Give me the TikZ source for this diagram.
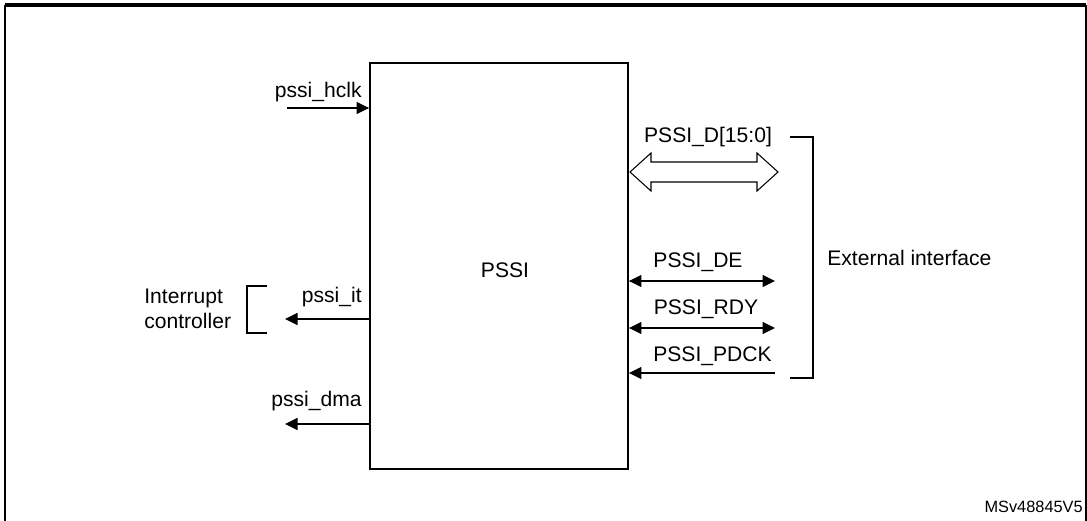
\documentclass[tikz,border=0pt]{standalone}
\usepackage{fontspec}
\setmainfont{Liberation Sans}
\usetikzlibrary{arrows.meta}

\tikzset{
  sig/.style={line width=0.6pt, -{Triangle[length=2.5mm,width=2.4mm]}},
  bisig/.style={line width=0.6pt, {Triangle[length=2.5mm,width=2.4mm]}-{Triangle[length=2.5mm,width=2.4mm]}},
  lbl/.style={font=\fontsize{12}{14}\selectfont, inner sep=0pt},
  brk/.style={line width=1.1pt}
}

\begin{document}
\begin{tikzpicture}[x=0.02cm,y=-0.02cm]
  \useasboundingbox (0,0) rectangle (1087,520);
  % frame
  \draw[line width=0.8pt] (5,525) -- (5,6) -- (1086,6) -- (1086,525);
  \draw[line width=0.6pt] (5,4) -- (1086,4);

  % block
  \node[draw, line width=1.1pt, minimum width=5.16cm, minimum height=8.12cm,
        lbl] (pssi) at (499,266) {};
  \node[lbl] (name) at (505,270) {PSSI};

  % left side
  \coordinate (hclk) at (287,108);
  \coordinate (it) at (285,319);
  \coordinate (dma) at (285,424);
  \draw[sig] (hclk) -- (hclk -| pssi.west);
  \draw[sig] (it -| pssi.west) -- (it);
  \draw[sig] (dma -| pssi.west) -- (dma);
  \node[lbl, anchor=east] (hclklbl) at (362,92) {pssi\_hclk};
  \node[lbl, anchor=east] (itlbl) at (362,297) {pssi\_it};
  \node[lbl, anchor=east] (dmalbl) at (362,401) {pssi\_dma};

  \draw[brk] (267,286) -- (247,286) -- (247,333) -- (267,333);
  \node[lbl, anchor=west, align=left] (irq) at (144,309) {Interrupt\\controller};

  % right side
  \draw[line width=0.6pt] (630,172) -- (651,153) -- (651,162) -- (757,162)
    -- (757,153) -- (778,172) -- (757,191) -- (757,182) -- (651,182)
    -- (651,191) -- cycle;
  \node[lbl] (dlbl) at (708,137) {PSSI\_D[15:0]};

  \coordinate (de) at (775,281);
  \coordinate (rdy) at (775,328);
  \coordinate (pdck) at (775,373);
  \draw[bisig] (de -| pssi.east) -- (de);
  \draw[bisig] (rdy -| pssi.east) -- (rdy);
  \draw[sig] (pdck) -- (pdck -| pssi.east);
  \node[lbl] (delbl) at (698,262) {PSSI\_DE};
  \node[lbl] (rdylbl) at (706,309) {PSSI\_RDY};
  \node[lbl, anchor=west] (pdcklbl) at (653,356) {PSSI\_PDCK};

  \draw[brk] (790,137) -- (813,137) -- (813,378) -- (790,378);
  \node[lbl, anchor=west] (ext) at (827,258) {External interface};

  \node[inner sep=0pt, anchor=east, font=\fontsize{9.3}{11}\selectfont] (ref) at (1083,507) {MSv48845V5};
\end{tikzpicture}
\end{document}
